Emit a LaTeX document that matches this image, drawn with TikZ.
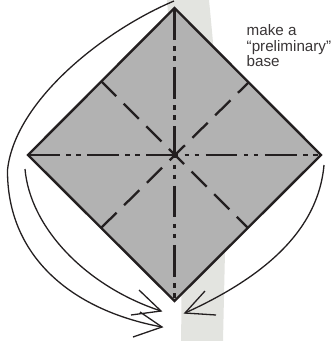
\documentclass[tikz,border=0pt]{standalone}
\usepackage{fontspec}
\setmainfont{Liberation Sans}
\usepackage{xcolor}
\definecolor{inkline}{HTML}{231F20}
\definecolor{paperfill}{HTML}{B2B2B2}
\definecolor{stripfill}{HTML}{E3E4E0}
\usetikzlibrary{positioning,calc}

\begin{document}
\begin{tikzpicture}[
    x=1pt, y=-1pt,
    paper/.style={draw=inkline, fill=paperfill, line width=2.4pt, line join=miter},
    valley/.style={draw=inkline, line width=2.3pt, dash pattern=on 21.5pt off 10.5pt},
    ridge/.style={draw=inkline, line width=2.3pt, dash pattern=on 31.7pt off 6.5pt on 4.5pt off 5.5pt on 4.5pt off 6.5pt},
    swing/.style={draw=inkline, line width=1.3pt},
    label/.style={font=\fontsize{15.2}{15.6}\selectfont, text=inkline!90, align=left, inner sep=0pt, anchor=north west},
]
\useasboundingbox (0,0) rectangle (335,341);

% Background strip
\fill[stripfill] (167,0) -- (209,0) .. controls (213,40) and (226,180) .. (225,252) -- (223,341) -- (181,341) .. controls (183,250) and (175,100) .. (167,0) -- cycle;

% Square
\coordinate (top) at (174.5,8);
\coordinate (left) at (28,155);
\coordinate (right) at (321,155);
\coordinate (bottom) at (174.5,301);
\coordinate (ul) at (101,81);
\coordinate (ur) at (249,82);
\coordinate (ll) at (101,228);
\coordinate (lr) at (248,228);
\draw[paper] (top) -- (right) -- (bottom) -- (left) -- cycle;

% Creases
\draw[ridge] (top) -- (bottom);
\draw[ridge] (left) -- (right);
\draw[valley] (ul) -- (lr);
\draw[valley, dash phase=6pt] (ur) -- (ll);

% Swing arrows
\coordinate (outerstart) at (174,1);
\coordinate (outermid) at (7.5,170);
\coordinate (outertip) at (162,327);
\coordinate (innerstart) at (25,169);
\coordinate (innertip) at (161,311);
\coordinate (rightstart) at (324,165);
\coordinate (righttip) at (185,313);
\draw[swing] (outerstart) .. controls (105,30) and (15,100) .. (outermid) .. controls (7,255) and (70,310) .. (outertip);
\draw[swing] (innerstart) .. controls (30,227) and (85,286) .. (innertip);
\draw[swing] (rightstart) .. controls (318,232) and (262,278) .. (righttip);
\draw[swing] (140,312) -- (outertip) -- (133,337);
\draw[swing] (139,290) -- (innertip) -- (131,315);
\draw[swing] (205,291) -- (righttip) -- (216,315);

% Label
\node[label] (note) at (246.5,24.5) {make a\\``preliminary''\\base};

\end{tikzpicture}
\end{document}
